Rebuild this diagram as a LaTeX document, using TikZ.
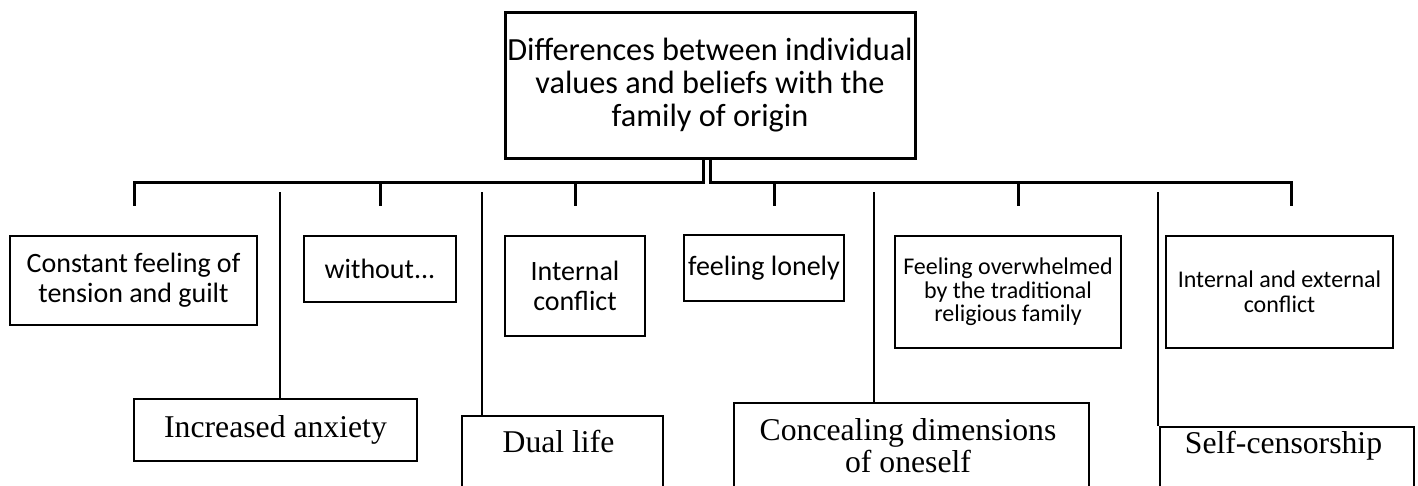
\documentclass[tikz,border=0pt]{standalone}
\usepackage{fontspec}
\setmainfont{Liberation Serif}
\newfontfamily\carlitofont{Carlito}
\begin{document}
\begin{tikzpicture}[x=1pt,y=-1pt,
  box/.style={draw, line width=2.8pt, inner sep=0pt, align=center},
  topbox/.style={box, line width=3pt, font=\carlitofont\fontsize{32.3}{33}\selectfont},
  rowone/.style={box, font=\carlitofont\fontsize{28}{30}\selectfont},
  rowonesmall/.style={box, font=\carlitofont\fontsize{24}{23.5}\selectfont},
  rowonemid/.style={box, font=\carlitofont\fontsize{24}{25}\selectfont},
  rowtwo/.style={box, line width=2pt, font=\fontsize{31.7}{32}\selectfont},
  rowtwoframe/.style={draw, line width=2pt, inner sep=0pt},
  rowtwotext/.style={inner sep=0pt, align=center, font=\fontsize{31.7}{32}\selectfont},
  bus/.style={line width=3pt},
  thinline/.style={line width=1.2pt}]
\useasboundingbox (0,0) rectangle (1418,485);
\clip (0,0) rectangle (1418,485);

% top box
\node[topbox, minimum width=410pt, minimum height=146pt] (T) at (710,85)
  {Differences between individual\\values and beliefs with the\\family of origin};

% first row
\node[rowone, minimum width=247pt, minimum height=89pt] (A) at (133.5,280.5) {Constant feeling of\\tension and guilt};
\node[rowone, minimum width=152pt, minimum height=66pt] (B) at (380,269) {without...};
\node[rowone, minimum width=140pt, minimum height=100pt] (C) at (575,286) {Internal\\conflict};
\node[rowone, minimum width=160pt, minimum height=66pt] (D) at (764,268) {feeling lonely};
\node[rowonesmall, minimum width=226pt, minimum height=112pt] (E) at (1008,292) {Feeling overwhelmed\\by the traditional\\religious family};
\node[rowonemid, minimum width=227pt, minimum height=112pt] (F) at (1279.5,292) {Internal and external\\conflict};

% second row
\node[rowtwo, minimum width=283pt, minimum height=62pt] (G) at (275.5,430) {Increased anxiety};
\node[rowtwoframe, anchor=north west, minimum width=201pt, minimum height=120pt] (H) at (461,415) {};
\node[rowtwotext, anchor=base] (Ht) at (558.5,452) {Dual life};
\node[rowtwoframe, anchor=north west, minimum width=355pt, minimum height=120pt] (I) at (733,402) {};
\node[rowtwotext, anchor=north] (It) at (908,418.5) {Concealing dimensions\\of oneself};
\node[rowtwoframe, anchor=north west, minimum width=254pt, minimum height=100pt] (J) at (1159,426) {};
\node[rowtwotext, anchor=base] (Jt) at (1283.5,453) {Self-censorship};

% bus coordinates
\coordinate (bA) at (134,182);  \coordinate (dA) at (134,206);
\coordinate (bB) at (380,182);  \coordinate (dB) at (380,206);
\coordinate (bC) at (575,182);  \coordinate (dC) at (575,206);
\coordinate (bD) at (774,182);  \coordinate (dD) at (774,206);
\coordinate (bE) at (1018,182); \coordinate (dE) at (1018,206);
\coordinate (bF) at (1291,182); \coordinate (dF) at (1291,206);

\draw[bus] ([xshift=-7pt]T.south) |- (bA) -- (dA);
\draw[bus] (T.south) |- (bF) -- (dF);
\draw[bus] (bB) -- (dB);
\draw[bus] (bC) -- (dC);
\draw[bus] (bD) -- (dD);
\draw[bus] (bE) -- (dE);

% thin long connectors
\coordinate (sG) at (280,192);
\coordinate (sH) at (482,192);
\coordinate (sI) at (874,192);
\coordinate (sJ) at (1158,192);
\draw[thinline] (sG) -- (sG |- G.north);
\draw[thinline] (sH) -- (sH |- H.north);
\draw[thinline] (sI) -- (sI |- I.north);
\draw[thinline] (sJ) -- (sJ |- J.north);
\end{tikzpicture}
\end{document}
